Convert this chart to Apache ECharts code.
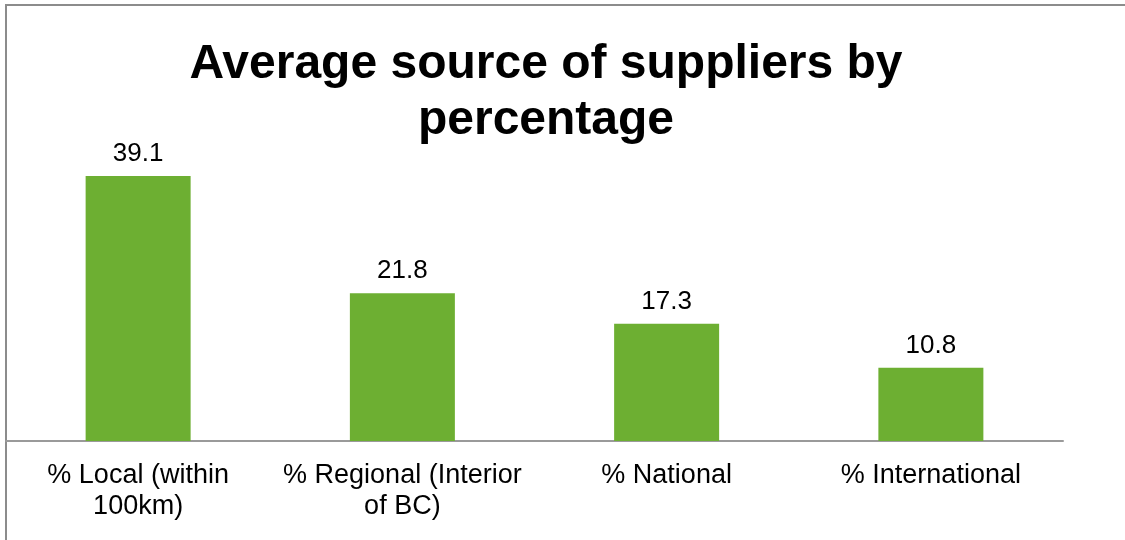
<!DOCTYPE html>
<html>
<head>
<meta charset="utf-8">
<style>
  html, body { margin: 0; padding: 0; background: #fff; }
  #chart { width: 1125px; height: 540px; }
</style>
<script src="https://cdn.jsdelivr.net/npm/echarts@6/dist/echarts.min.js"></script>
</head>
<body>
<div id="chart"></div>
<script>
// Supplier source categories and their average share (%)
const categories = [
  '% Local (within\n100km)',
  '% Regional (Interior\nof BC)',
  '% National',
  '% International'
];
const shares = [39.1, 21.8, 17.3, 10.8];

const FONT = '"Liberation Sans", Arial, Helvetica, sans-serif';

const chart = echarts.init(document.getElementById('chart'));
chart.setOption({
  animation: false,
  backgroundColor: '#ffffff',
  title: {
    text: 'Average source of suppliers by\npercentage',
    left: 541,
    textAlign: 'center',
    top: 32,
    textStyle: {
      fontFamily: FONT,
      fontSize: 48,
      fontWeight: 'bold',
      color: '#000',
      lineHeight: 56
    }
  },
  // outer chart frame
  graphic: [{
    type: 'rect',
    shape: { x: 6, y: 5, width: 1300, height: 700 },
    style: { fill: 'none', stroke: '#8c8c8c', lineWidth: 2 },
    silent: true,
    z: -1
  }],
  grid: { left: 6, right: 62, top: 170, bottom: 99 },
  xAxis: {
    type: 'category',
    data: categories,
    axisLine: { show: true, lineStyle: { color: '#9a9a9a', width: 2 } },
    axisTick: { show: false },
    axisLabel: {
      interval: 0,
      margin: 19,
      fontFamily: FONT,
      fontSize: 27,
      color: '#000',
      lineHeight: 31
    }
  },
  yAxis: {
    type: 'value',
    min: 0,
    max: 40,
    show: false,
    splitLine: { show: false }
  },
  series: [{
    type: 'bar',
    data: shares,
    barWidth: 105,
    itemStyle: { color: '#6daf32' },
    label: {
      show: true,
      position: 'top',
      distance: 9,
      fontFamily: FONT,
      fontSize: 26,
      color: '#000',
      formatter: p => p.value.toFixed(1)
    }
  }]
});
</script>
</body>
</html>
